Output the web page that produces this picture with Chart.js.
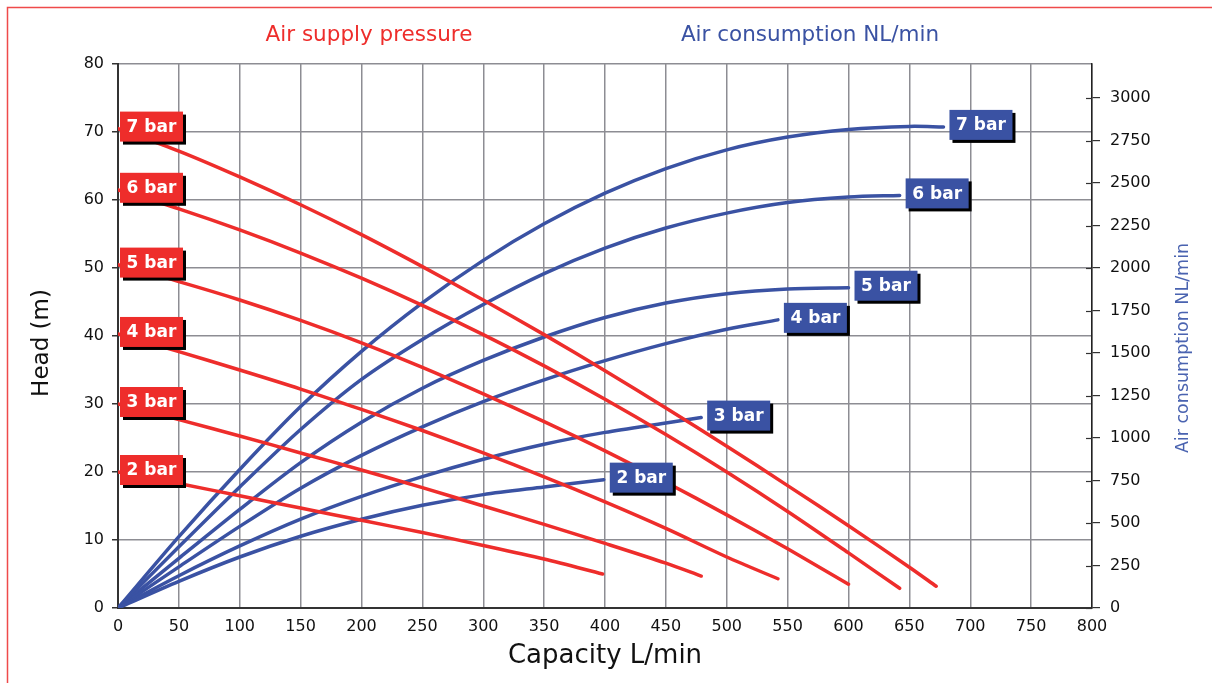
<!DOCTYPE html>
<html>
<head>
<meta charset="utf-8">
<script src="https://cdn.jsdelivr.net/npm/chart.js@4.4.1/dist/chart.umd.min.js"></script>
<style>
  html, body { margin: 0; padding: 0; background: #fff; }
  #wrap { width: 1212px; height: 683px; position: relative; }
</style>
</head>
<body>
<div id="wrap"><canvas id="chart"></canvas></div>
<script>
// --- Data ---
const pressureLabels = ['2 bar', '3 bar', '4 bar', '5 bar', '6 bar', '7 bar'];

// head (m) against capacity (L/min), one list per supply pressure
const head2 = [[0,20],[50,18.3],[100,16.5],[150,14.7],[200,12.9],[250,11.1],[300,9.2],[350,7.2],[398,5.0]];
const head3 = [[0,30],[50,27.7],[100,25.3],[150,22.8],[200,20.3],[250,17.7],[300,15.0],[350,12.3],[400,9.5],[450,6.6],[479,4.7]];
const head4 = [[0,40.3],[50,37.7],[100,35.0],[150,32.2],[200,29.2],[250,26.1],[300,22.8],[350,19.3],[400,15.6],[450,11.7],[500,7.5],[542,4.3]];
const head5 = [[0,50.5],[50,48.0],[100,45.3],[150,42.3],[200,39.0],[250,35.4],[300,31.5],[350,27.4],[400,23.1],[450,18.5],[500,13.7],[550,8.7],[600,3.5]];
const head6 = [[0,61.5],[50,58.7],[100,55.6],[150,52.2],[200,48.5],[250,44.5],[300,40.2],[350,35.6],[400,30.7],[450,25.5],[500,20.0],[550,14.2],[600,8.1],[642,2.9]];
const head7 = [[0,70.5],[50,67.2],[100,63.4],[150,59.3],[200,54.9],[250,50.2],[300,45.3],[350,40.2],[400,34.9],[450,29.4],[500,23.8],[550,18.0],[600,12.1],[650,6.0],[672,3.2]];

// air consumption (NL/min) against capacity (L/min)
const air2 = [[0,0],[50,157],[100,300],[150,422],[200,522],[250,604],[300,667],[350,712],[399,755]];
const air3 = [[0,0],[50,190],[100,365],[150,523],[200,657],[250,773],[300,875],[350,963],[400,1033],[450,1088],[479,1120]];
const air4 = [[0,0],[50,242],[100,480],[150,705],[200,898],[250,1066],[300,1214],[350,1342],[400,1455],[450,1555],[500,1640],[542,1695]];
const air5 = [[0,0],[50,292],[100,580],[150,855],[200,1093],[250,1293],[300,1456],[350,1594],[400,1709],[450,1794],[500,1849],[550,1877],[600,1884]];
const air6 = [[0,0],[50,360],[100,712],[150,1050],[200,1345],[250,1580],[300,1785],[350,1967],[400,2117],[450,2235],[500,2323],[550,2385],[600,2417],[642,2427]];
const air7 = [[0,0],[50,420],[100,815],[150,1185],[200,1510],[250,1795],[300,2045],[350,2260],[400,2440],[450,2585],[500,2695],[550,2770],[600,2815],[650,2833],[678,2830]];

const rightTicks = [0,250,500,750,1000,1250,1500,1750,2000,2250,2500,2750,3000];

const RED = '#ee2d2b';
const BLUE = '#3a52a3';
const GRID = '#8d8d93';
const FONT = 'DejaVu Sans';

const headSets = [head2, head3, head4, head5, head6, head7];
const airSets = [air2, air3, air4, air5, air6, air7];

function toPoints(list) {
    return list.map(p => ({ x: p[0], y: p[1] }));
}

const datasets = [];
headSets.forEach((s, i) => {
    datasets.push({
        label: pressureLabels[i], kind: 'head', data: toPoints(s), yAxisID: 'y',
        borderColor: RED, borderWidth: 3.5, borderCapStyle: 'round',
        showLine: true, pointRadius: 0, tension: 0.3
    });
});
airSets.forEach((s, i) => {
    datasets.push({
        label: pressureLabels[i], kind: 'air', data: toPoints(s), yAxisID: 'y2',
        borderColor: BLUE, borderWidth: 3.5, borderCapStyle: 'round',
        showLine: true, pointRadius: 0, tension: 0.3
    });
});

function tagBox(ctx, x, y, color, text) {
    const w = 63, h = 30;
    ctx.fillStyle = '#000';
    ctx.fillRect(x + 3, y + 3, w, h);
    ctx.fillStyle = color;
    ctx.fillRect(x, y, w, h);
    ctx.fillStyle = '#fff';
    ctx.font = 'bold 17px "' + FONT + '"';
    ctx.textAlign = 'center';
    ctx.textBaseline = 'middle';
    ctx.fillText(text, x + w / 2, y + h / 2 + 1);
}

const decor = {
    id: 'decor',
    beforeDraw(chart) {
        const ctx = chart.ctx;
        ctx.save();
        ctx.fillStyle = '#fff';
        ctx.fillRect(0, 0, chart.width, chart.height);
        ctx.strokeStyle = '#ef4a4a';
        ctx.lineWidth = 1.5;
        ctx.beginPath();
        ctx.moveTo(7.5, chart.height);
        ctx.lineTo(7.5, 7.5);
        ctx.lineTo(chart.width, 7.5);
        ctx.stroke();
        ctx.restore();
    },
    afterDraw(chart) {
        const ctx = chart.ctx;
        const xs = chart.scales.x, ys = chart.scales.y, y2 = chart.scales.y2;
        ctx.save();

        // inner half of the right axis ticks
        ctx.strokeStyle = '#333';
        ctx.lineWidth = 1.2;
        rightTicks.forEach(v => {
            const py = Math.round(y2.getPixelForValue(v)) + 0.5;
            ctx.beginPath();
            ctx.moveTo(xs.right - 6, py);
            ctx.lineTo(xs.right, py);
            ctx.stroke();
        });

        // pressure tags
        chart.data.datasets.forEach(ds => {
            if (ds.kind === 'head') {
                const p = ds.data[0];
                const px = xs.getPixelForValue(p.x), py = ys.getPixelForValue(p.y);
                tagBox(ctx, px + 2, py - 17, RED, ds.label);
            } else {
                const p = ds.data[ds.data.length - 1];
                const px = xs.getPixelForValue(p.x), py = y2.getPixelForValue(p.y);
                tagBox(ctx, px + 6, py - 17, BLUE, ds.label);
            }
        });

        // titles
        ctx.textAlign = 'center';
        ctx.textBaseline = 'middle';
        ctx.font = '21.5px "' + FONT + '"';
        ctx.fillStyle = RED;
        ctx.fillText('Air supply pressure', 369, 35);
        ctx.fillStyle = BLUE;
        ctx.fillText('Air consumption NL/min', 810, 35);

        ctx.fillStyle = '#111';
        ctx.font = '26px "' + FONT + '"';
        ctx.fillText('Capacity L/min', 605, 656);

        ctx.save();
        ctx.translate(42, 343);
        ctx.rotate(-Math.PI / 2);
        ctx.font = '23px "' + FONT + '"';
        ctx.fillText('Head (m)', 0, 0);
        ctx.restore();

        ctx.save();
        ctx.translate(1183, 348);
        ctx.rotate(-Math.PI / 2);
        ctx.fillStyle = '#4a63b0';
        ctx.font = '17.5px "' + FONT + '"';
        ctx.fillText('Air consumption NL/min', 0, 0);
        ctx.restore();

        ctx.restore();
    }
};

new Chart(document.getElementById('chart'), {
    type: 'scatter',
    data: { datasets },
    options: {
        responsive: true,
        maintainAspectRatio: false,
        animation: false,
        devicePixelRatio: 1,
        layout: { padding: { top: 64, left: 0, right: 0, bottom: 0 } },
        plugins: { legend: { display: false }, tooltip: { enabled: false } },
        scales: {
            x: {
                type: 'linear', min: 0, max: 800,
                ticks: { stepSize: 50, padding: 9, color: '#111', font: { family: FONT, size: 16 } },
                grid: { color: GRID, lineWidth: 1.5, drawTicks: false },
                border: { color: '#333', width: 2 },
                afterFit(scale) { scale.height = 75; }
            },
            y: {
                position: 'left', min: 0, max: 80,
                ticks: { stepSize: 10, padding: 8, color: '#111', font: { family: FONT, size: 16 } },
                grid: { color: GRID, lineWidth: 1.5, tickColor: '#333', tickLength: 6 },
                border: { color: '#333', width: 2 },
                afterFit(scale) { scale.width = 118; }
            },
            y2: {
                position: 'right', min: 0, max: 3200,
                afterBuildTicks(scale) { scale.ticks = rightTicks.map(v => ({ value: v })); },
                ticks: { padding: 10, color: '#111', font: { family: FONT, size: 16 }, callback: v => String(v) },
                grid: { drawOnChartArea: false, tickColor: '#333', tickLength: 8, lineWidth: 1.2 },
                border: { color: '#222', width: 1.5 },
                afterFit(scale) { scale.width = 120; }
            }
        }
    },
    plugins: [decor]
});
</script>
</body>
</html>
